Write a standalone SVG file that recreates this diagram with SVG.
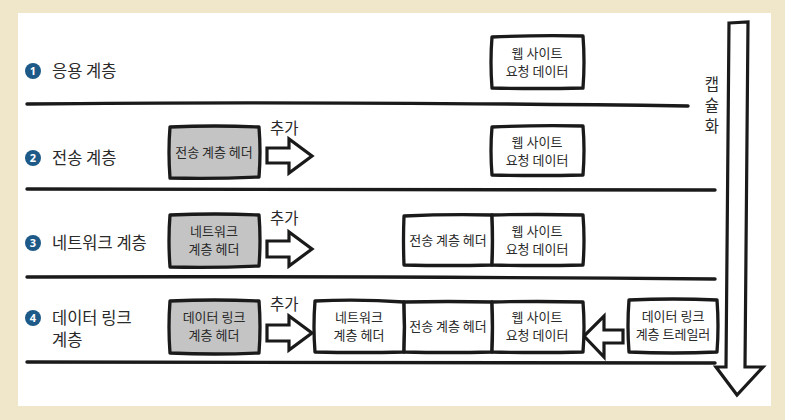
<svg xmlns="http://www.w3.org/2000/svg" width="785" height="420" viewBox="0 0 785 420">
<style>
.bx{fill:#fff;stroke:#1a1a1a;stroke-width:3.3;stroke-linejoin:round}
.gr{fill:#c4c4c4}
.ln{fill:none;stroke:#1a1a1a;stroke-width:3.4;stroke-linecap:round}
.ar{fill:#fff;stroke:#1a1a1a;stroke-width:3.2;stroke-linejoin:miter}
.t{font-family:"Noto Sans CJK KR","Noto Sans",sans-serif;fill:#2a2a2a;font-size:13px;text-anchor:middle}
.lb{font-family:"Noto Sans CJK KR","Noto Sans",sans-serif;fill:#2a2a2a;font-size:16.5px}
.num{font-family:"Noto Sans","DejaVu Sans",sans-serif;fill:#fff;font-size:11px;font-weight:bold;text-anchor:middle}
.ci{fill:#1d5a88}
</style>
<rect x="0" y="0" width="785" height="420" fill="#f0e6ca"/>
<rect x="18" y="13" width="753" height="393" fill="#fff"/>

<g id="connectors">
<path class="ln" d="M27,104 Q300,101 688,106"/>
<path class="ln" d="M27,189 Q350,188 715,190"/>
<path class="ln" d="M27,277 Q350,276 715,279"/>
<path class="ln" d="M27,362 Q350,364 715,363"/>
<polygon id="add2" class="ar" points="267,148 289,148 289,139 312,156 289,173 289,163 267,163"/>
<polygon id="add3" class="ar" points="267,241 289,241 289,232 312,249 289,266 289,257 267,257"/>
<polygon id="add4" class="ar" points="267,325 289,325 289,316 312,333 289,350 289,341 267,341"/>
<polygon id="trailerArrow" class="ar" points="623,330 604,330 604,316 584,336 604,357 604,343 623,343"/>
<polygon id="encap" class="ar" points="729,23 748,22 745,367 763,367 737,395 716,367 726,367"/>
</g>

<g id="layer1">
<circle class="ci" cx="33" cy="71" r="8"/><text class="num" x="33" y="75">1</text>
<text class="lb" x="52" y="77">응용 계층</text>
</g>
<g id="layer2">
<circle class="ci" cx="33" cy="158" r="8"/><text class="num" x="33" y="162">2</text>
<text class="lb" x="52" y="164">전송 계층</text>
</g>
<g id="layer3">
<circle class="ci" cx="33" cy="243" r="8"/><text class="num" x="33" y="247">3</text>
<text class="lb" x="52" y="249">네트워크 계층</text>
</g>
<g id="layer4">
<circle class="ci" cx="33" cy="318" r="8"/><text class="num" x="33" y="322">4</text>
<text class="lb" x="52" y="324">데이터 링크</text>
<text class="lb" x="52" y="346">계층</text>
</g>

<g id="data1">
<path class="bx" d="M492,37 Q537,35 583,36 Q585,62 583,88 Q537,89 492,88 Q490,62 492,37 Z"/>
<text class="t" x="537" y="58">웹 사이트</text><text class="t" x="537" y="76">요청 데이터</text>
</g>

<g id="tHeader2">
<path class="bx gr" d="M170,127 Q215,125 259,127 Q261,152 259,177 Q215,179 170,178 Q168,152 170,127 Z"/>
<text class="t" x="214" y="157">전송 계층 헤더</text>
</g>
<text class="lb" x="270" y="134" style="font-size:15.5px">추가</text>
<g id="data2">
<path class="bx" d="M492,127 Q537,125 583,126 Q585,150 583,175 Q537,176 492,175 Q490,150 492,127 Z"/>
<text class="t" x="537" y="147">웹 사이트</text><text class="t" x="537" y="165">요청 데이터</text>
</g>

<g id="nHeader3">
<path class="bx gr" d="M170,215 Q215,213 259,215 Q261,240 259,266 Q215,268 170,267 Q168,240 170,215 Z"/>
<text class="t" x="214" y="236">네트워크</text><text class="t" x="214" y="254">계층 헤더</text>
</g>
<text class="lb" x="270" y="224" style="font-size:15.5px">추가</text>
<g id="tHeader3">
<path class="bx" d="M404,216 Q448,214 492,215 Q493,240 492,265 Q448,266 404,265 Q403,240 404,216 Z"/>
<text class="t" x="448" y="245">전송 계층 헤더</text>
</g>
<g id="data3">
<path class="bx" d="M492,215 Q537,214 583,215 Q585,240 583,265 Q537,266 492,265 Q493,240 492,215 Z"/>
<text class="t" x="537" y="236">웹 사이트</text><text class="t" x="537" y="254">요청 데이터</text>
</g>

<g id="dHeader4">
<path class="bx gr" d="M170,301 Q215,299 259,301 Q261,327 259,353 Q215,355 170,353 Q168,327 170,301 Z"/>
<text class="t" x="214" y="322">데이터 링크</text><text class="t" x="214" y="340">계층 헤더</text>
</g>
<text class="lb" x="270" y="310" style="font-size:15.5px">추가</text>
<g id="nHeader4">
<path class="bx" d="M315,301 Q360,299 404,302 Q405,327 404,352 Q360,353 315,352 Q313,327 315,301 Z"/>
<text class="t" x="359" y="322">네트워크</text><text class="t" x="359" y="340">계층 헤더</text>
</g>
<g id="tHeader4">
<path class="bx" d="M404,302 Q448,301 492,302 Q493,327 492,352 Q448,353 404,352 Q405,327 404,302 Z"/>
<text class="t" x="448" y="331">전송 계층 헤더</text>
</g>
<g id="data4">
<path class="bx" d="M492,302 Q537,301 583,302 Q585,327 583,352 Q537,353 492,352 Q493,327 492,302 Z"/>
<text class="t" x="537" y="322">웹 사이트</text><text class="t" x="537" y="340">요청 데이터</text>
</g>
<g id="trailer4">
<path class="bx" d="M629,300 Q673,298 717,300 Q719,326 717,352 Q673,354 629,352 Q627,326 629,300 Z"/>
<text class="t" x="673" y="321">데이터 링크</text><text class="t" x="673" y="339">계층 트레일러</text>
</g>

<g id="encapLabel">
<text class="lb" x="712" y="90" style="font-size:15.5px;text-anchor:middle">캡</text>
<text class="lb" x="712" y="111" style="font-size:15.5px;text-anchor:middle">슐</text>
<text class="lb" x="712" y="132" style="font-size:15.5px;text-anchor:middle">화</text>
</g>
</svg>
